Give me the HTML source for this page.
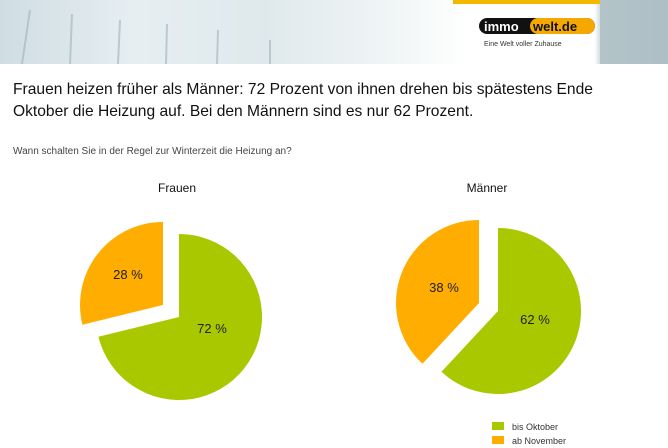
<!DOCTYPE html>
<html><head><meta charset="utf-8"><style>
body{margin:0;width:668px;height:448px;background:#fff;overflow:hidden;font-family:"Liberation Sans",Arial,sans-serif;position:relative}
.hdr{position:absolute;left:0;top:0;width:668px;height:64px;background:linear-gradient(90deg,#cfdde3 0%,#e6eef1 20%,#dfe9ec 40%,#f2f6f7 60%,#fff 70%,#fff 89%,#c9d6da 90%,#b7c7cc 100%)}
.ybar{position:absolute;left:453px;top:0;width:147px;height:4px;background:#f5b800}
.t{position:absolute;left:13px;font-size:15.6px;color:#111;line-height:22px}
</style></head><body>
<div class="hdr"></div>
<svg style="position:absolute;left:0;top:0" width="668" height="64">
<g stroke="#9fb3ba" stroke-width="2" opacity="0.6"><line x1="30" y1="10" x2="22" y2="64"/><line x1="72" y1="14" x2="70" y2="64"/><line x1="120" y1="20" x2="118" y2="64"/><line x1="167" y1="24" x2="166" y2="64"/><line x1="218" y1="30" x2="217" y2="64"/><line x1="270" y1="40" x2="270" y2="64"/></g>
<rect x="600" y="0" width="68" height="64" fill="#a9bcc2" opacity="0.7"/>
<rect x="479" y="18" width="116" height="16" rx="8" fill="#111"/>
<rect x="530" y="18" width="65" height="16" rx="8" fill="#f5a800"/>
<text x="484" y="31" font-family="Liberation Sans" font-weight="bold" font-size="13" fill="#fff">immo</text>
<text x="533" y="31" font-family="Liberation Sans" font-weight="bold" font-size="13" fill="#111">welt.de</text>
<text x="484" y="46" font-family="Liberation Sans" font-size="7" fill="#333">Eine Welt voller Zuhause</text>
</svg>
<div class="ybar"></div>
<div class="t" style="top:79px">Frauen heizen früher als Männer: 72 Prozent von ihnen drehen bis spätestens Ende<br>Oktober die Heizung auf. Bei den Männern sind es nur 62 Prozent.</div>
<div style="position:absolute;left:13px;top:146px;font-size:10px;color:#444">Wann schalten Sie in der Regel zur Winterzeit die Heizung an?</div>
<svg style="position:absolute;left:0;top:0" width="668" height="448" font-family="Liberation Sans">
<text x="177" y="192" font-size="12" text-anchor="middle" fill="#111">Frauen</text>
<text x="487" y="192" font-size="12" text-anchor="middle" fill="#111">Männer</text>
<path d="M179,317 L179,234 A83,83 0 1 1 98.4,336.7 Z" fill="#a9c800"/>
<path d="M163,305 L82.4,324.7 A83,83 0 0 1 163,222 Z" fill="#ffad00"/>
<text x="212" y="333" font-size="13" text-anchor="middle" fill="#222">72 %</text>
<text x="128" y="279" font-size="13" text-anchor="middle" fill="#222">28 %</text>
<path d="M498,311 L498,228 A83,83 0 1 1 441.5,371.8 Z" fill="#a9c800"/>
<path d="M479,303 L422.5,363.8 A83,83 0 0 1 479,220 Z" fill="#ffad00"/>
<text x="535" y="324" font-size="13" text-anchor="middle" fill="#222">62 %</text>
<text x="444" y="292" font-size="13" text-anchor="middle" fill="#222">38 %</text>
<rect x="492" y="422" width="12" height="8" fill="#a9c800"/>
<text x="512" y="430" font-size="9" fill="#333">bis Oktober</text>
<rect x="492" y="436" width="12" height="8" fill="#ffad00"/>
<text x="512" y="444" font-size="9" fill="#333">ab November</text>
</svg>
</body></html>
